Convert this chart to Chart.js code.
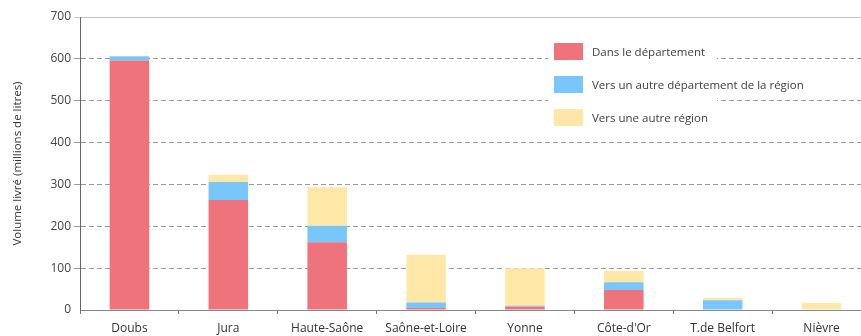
<!DOCTYPE html>
<html>
<head>
<meta charset="utf-8">
<script src="https://cdn.jsdelivr.net/npm/chart.js@4/dist/chart.umd.min.js"></script>
<style>
  html, body { margin: 0; padding: 0; background: #fff; overflow: hidden; }
  #wrap { position: relative; width: 880px; height: 336px; }
  #legende {
    position: absolute; left: 548px; top: 36px; width: 169px; height: 96px;
    background: #fff; font-family: "Open Sans", sans-serif; font-size: 11.5px; color: #404040;
  }
  .item { position: absolute; left: 6px; white-space: nowrap; }
  .item span.box { position: absolute; left: 0; top: 0; width: 29px; height: 17px; }
  .item span.txt { position: absolute; left: 38px; top: 0; line-height: 17px; }
</style>
</head>
<body>
<div id="wrap">
  <canvas id="chart" width="880" height="336"></canvas>
  <div id="legende"></div>
</div>
<script>
const categories = ["Doubs", "Jura", "Haute-Saône", "Saône-et-Loire", "Yonne", "Côte-d'Or", "T.de Belfort", "Nièvre"];
const dansDepartement = [596, 263, 162, 5, 8, 48, 0, 0];
const autreDepartement = [10, 43, 39, 13, 2, 18, 23, 0];
const autreRegion = [0, 17, 92, 114, 90, 27, 6, 17];
const yTicks = [0, 100, 200, 300, 400, 500, 600, 700];

const seriesLabels = ["Dans le département", "Vers un autre département de la région", "Vers une autre région"];
const couleurs = ["#EF737C", "#79C6FA", "#FFE7A8"];

const police = "'Open Sans', sans-serif";

// datasets empilés
const datasets = [dansDepartement, autreDepartement, autreRegion].map((d, i) => ({
  label: seriesLabels[i],
  data: d,
  backgroundColor: couleurs[i],
  borderWidth: 0,
  barPercentage: 0.4,
  categoryPercentage: 1.0,
}));

new Chart(document.getElementById("chart"), {
  type: "bar",
  data: { labels: categories, datasets },
  options: {
    responsive: false,
    animation: false,
    layout: { padding: { left: 0, top: 17, right: 9, bottom: 0 } },
    plugins: { legend: { display: false }, tooltip: { enabled: false } },
    scales: {
      x: {
        stacked: true,
        afterFit: s => { s.height = 26; },
        grid: { drawOnChartArea: false, tickLength: 4, color: "#777", offset: true },
        border: { color: "#888", width: 1 },
        ticks: { color: "#333", font: { family: police, size: 12 }, padding: 7, maxRotation: 0 },
      },
      y: {
        stacked: true,
        min: 0,
        max: 700,
        afterFit: s => { s.width = 80; },
        afterBuildTicks: s => { s.ticks = yTicks.map(v => ({ value: v })); },
        grid: {
          tickLength: 6,
          color: ctx => (ctx.tick && ctx.tick.value === 700 ? "#c4c4c4" : ctx.tick && ctx.tick.value === 0 ? "rgba(0,0,0,0)" : "#9a9a9a"),
        },
        border: {
          color: "#666",
          width: 1,
          dash: ctx => (ctx.tick && ctx.tick.value === 700 ? [] : [5, 3]),
        },
        ticks: { color: "#444", font: { family: police, size: 12 }, padding: 3 },
        title: {
          display: true,
          text: "Volume livré (millions de litres)",
          color: "#333",
          font: { family: police, size: 11.5 },
          padding: { top: 11, bottom: 0 },
        },
      },
    },
  },
});

// légende à l'intérieur du graphique
const legende = document.getElementById("legende");
seriesLabels.forEach((lab, i) => {
  const el = document.createElement("div");
  el.className = "item";
  el.style.top = (7 + i * 33) + "px";
  el.innerHTML = `<span class="box" style="background:${couleurs[i]}"></span><span class="txt">${lab}</span>`;
  legende.appendChild(el);
});
</script>
</body>
</html>
